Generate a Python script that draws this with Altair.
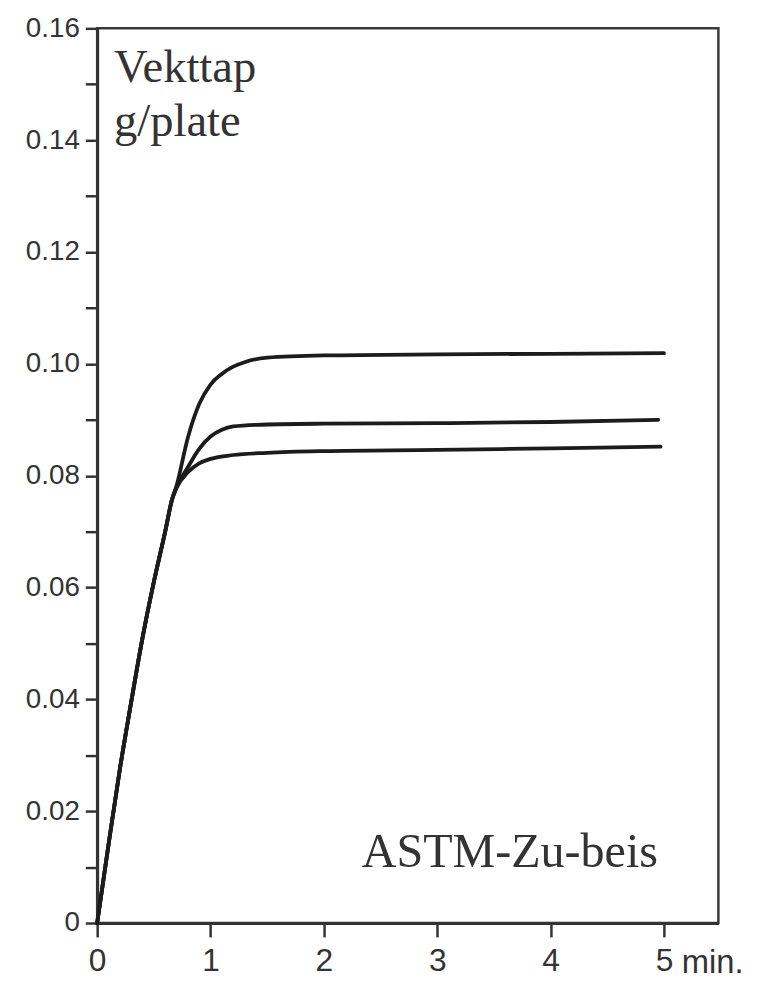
import altair as alt
import pandas as pd

# Time in minutes and weight loss (g/plate)
common_t = [0, 0.1, 0.2, 0.3, 0.4, 0.5, 0.6, 0.66]
common_v = [0, 0.0140, 0.0275, 0.0395, 0.0510, 0.0610, 0.0700, 0.0757]

top_t = [0.7, 0.8, 0.9, 1.0, 1.1, 1.2, 1.3, 1.5, 2.0, 3.0, 4.0, 5.0]
top_v = [0.0782, 0.0868, 0.0928, 0.0963, 0.0982, 0.0995, 0.1003, 0.1011, 0.1015, 0.1017, 0.1018, 0.1019]

mid_t = [0.7, 0.8, 0.9, 1.0, 1.1, 1.2, 1.4, 2.0, 3.0, 4.0, 4.95]
mid_v = [0.0779, 0.0815, 0.0848, 0.0870, 0.0882, 0.0888, 0.0891, 0.0893, 0.0894, 0.0896, 0.0900]

low_t = [0.7, 0.8, 0.9, 1.0, 1.2, 1.5, 2.0, 3.0, 4.0, 4.97]
low_v = [0.0778, 0.0806, 0.0822, 0.0830, 0.0837, 0.0841, 0.0844, 0.0846, 0.0849, 0.0852]

series_names = ["A", "B", "C"]
x_ticks = [0, 1, 2, 3, 4, 5]
y_ticks = [round(i * 0.01, 2) for i in range(17)]

rows = []
for name, ts, vs in zip(series_names, [top_t, mid_t, low_t], [top_v, mid_v, low_v]):
    for t, v in zip(common_t + ts, common_v + vs):
        rows.append({"series": name, "t": t, "v": v})
df = pd.DataFrame(rows)

x_scale = alt.Scale(domain=[0, 5.48], nice=False, zero=False)
y_scale = alt.Scale(domain=[0, 0.16], nice=False)

lines = alt.Chart(df).mark_line(
    color="#1c1c1c", strokeWidth=3.8, interpolate="monotone", strokeCap="round"
).encode(
    x=alt.X("t:Q", scale=x_scale, axis=alt.Axis(
        values=x_ticks, title=None, grid=False, tickSize=14, tickWidth=2.5,
        tickColor="#333", domainColor="#333", domainWidth=3,
        labelFont="Liberation Sans", labelFontSize=32, labelColor="#333",
        labelPadding=9, labelFlush=False, format="d")),
    y=alt.Y("v:Q", scale=y_scale, axis=alt.Axis(
        values=y_ticks, title=None, grid=False, tickSize=12, tickWidth=2.5,
        tickColor="#333", domainColor="#333", domainWidth=3,
        labelFont="Liberation Sans", labelFontSize=28, labelColor="#333",
        labelPadding=6, labelFlush=False, labelOverlap=False, labelBaseline="middle",
        labelExpr="round(datum.value*100) % 2 == 0 ? (datum.value == 0 ? '0' : format(datum.value, '.2f')) : ''")),
    detail="series:N",
)

serif = "Liberation Serif"
t1 = alt.Chart().mark_text(text="Vekttap", font=serif, fontSize=47, color="#333",
                           align="left", baseline="alphabetic").encode(
    x=alt.value(17), y=alt.value(54))
t2 = alt.Chart().mark_text(text="g/plate", font=serif, fontSize=47, color="#333",
                           align="left", baseline="alphabetic").encode(
    x=alt.value(17), y=alt.value(109))
t3 = alt.Chart().mark_text(text="ASTM-Zu-beis", font=serif, fontSize=48.5, color="#333",
                           align="left", baseline="alphabetic").encode(
    x=alt.value(267), y=alt.value(846))
t4 = alt.Chart().mark_text(text="min.", font="Liberation Sans", fontSize=33, color="#333",
                           align="left", baseline="alphabetic").encode(
    x=alt.value(590), y=alt.value(953))

chart = alt.layer(lines, t1, t2, t3, t4).properties(
    width=627, height=903,
    autosize=alt.AutoSizeParams(type="none"),
    padding={"left": 90, "top": 16, "right": 42, "bottom": 56},
).configure(background="white").configure_view(stroke="#3a3a3a", strokeWidth=2.5)

chart.save("out.html", embed_options={"renderer": "svg", "actions": False})
